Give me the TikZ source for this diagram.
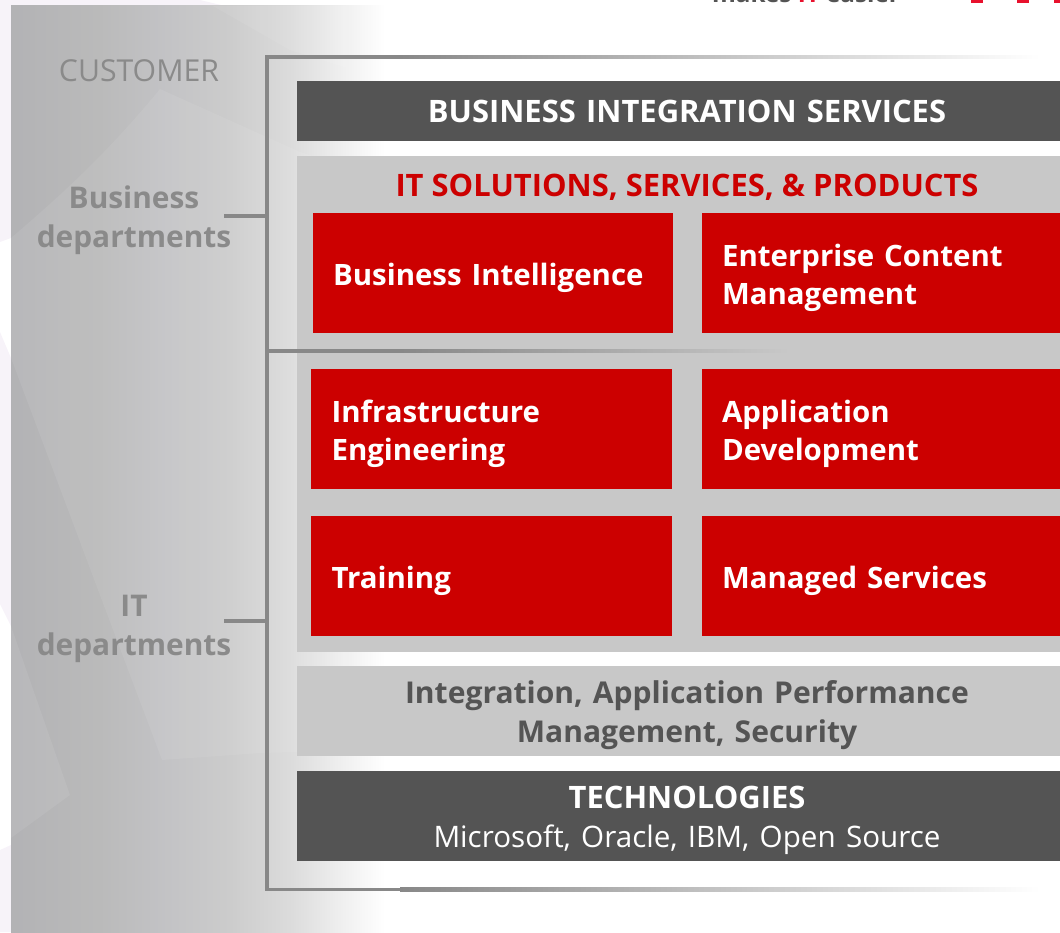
\documentclass[tikz,border=0pt]{standalone}
\usepackage{fontspec}
\setmainfont{Open Sans}
\usepackage{xcolor}
\usetikzlibrary{positioning}
\definecolor{darkbar}{HTML}{545454}
\definecolor{lightbar}{HTML}{C8C8C8}
\definecolor{redbox}{HTML}{CC0000}
\definecolor{lineray}{HTML}{888888}
\definecolor{labelgray}{HTML}{8A8A8A}
\definecolor{lavender}{HTML}{F7F3F9}
\definecolor{logored}{HTML}{E8112D}
\pgfdeclarehorizontalshading{sidefade}{100bp}{
  rgb(0bp)=(.70,.70,.71); rgb(25bp)=(.70,.70,.71); rgb(36.9bp)=(.73,.73,.73); rgb(44.9bp)=(.76,.76,.77);
  rgb(54.3bp)=(.80,.80,.80); rgb(62.3bp)=(.86,.86,.86); rgb(67.6bp)=(.92,.92,.92);
  rgb(75bp)=(1,1,1); rgb(100bp)=(1,1,1)}

\begin{document}
\begin{tikzpicture}[
    x=0.02cm, y=-0.02cm,
    textdown/.style={execute at begin node={\rule{0pt}{#1}}},
    banner/.style={rectangle, fill=darkbar, text=white, minimum width=15.6cm, minimum height=1.2cm,
                   text width=15.6cm, inner sep=0pt, align=center, font=\fontsize{17.6}{22}\selectfont\bfseries},
    band/.style={rectangle, fill=lightbar, minimum width=15.6cm, text width=15.6cm, inner sep=0pt, align=center},
    redcard/.style={rectangle, fill=redbox, text=white, minimum width=7.22cm, minimum height=2.4cm,
                    text width=6.4cm, inner xsep=0.4cm, inner ysep=0pt, align=left, textdown=0.625cm,
                    font=\fontsize{16.75}{21.6}\selectfont\bfseries},
    sidelabel/.style={text=labelgray, align=center, inner sep=0pt,
                      font=\fontsize{17}{22}\selectfont\bfseries},
    frameline/.style={draw=lineray, line width=0.07cm},
    lightpatch/.style={fill=white, opacity=0.07}
]
    \useasboundingbox (0,0) rectangle (1060,932);
    \clip (0,0) rectangle (1060,932);

    % Pale background shapes
    \fill[lavender] (0,0) -- (200,0) -- (225,6) -- (11,6) -- (11,238) -- (0,242) -- cycle;
    \fill[lavender] (0,332) -- (11,358) -- (11,626) -- (0,604) -- cycle;
    \fill[lavender] (0,850) -- (11,845) -- (11,932) -- (0,932) -- cycle;

    % Side panel
    \shade[shading=sidefade] (11,6) rectangle (385,932);
    \path[lightpatch] (11,238) .. controls (67,190) and (110,150) .. (160,89) -- (300,152)
        -- (385,180) -- (385,750) -- (260,753) -- (162,760) -- (11,358) -- cycle;
    \path[lightpatch] (11,626) -- (70,795) -- (11,838) -- cycle;
    \path[lightpatch] (213,6) -- (290,50) -- (385,80) -- (385,6) -- cycle;

    % Logo, cut by the top edge
    \node[anchor=base, inner sep=0pt, text=darkbar, font=\fontsize{13.8}{16}\selectfont\bfseries] (slogan) at (806,3)
        {makes \textcolor{logored}{IT} easier};
    \fill[logored] (971,0) rectangle (983,3);
    \fill[logored] (1017,0) rectangle (1029,3);
    \fill[logored] (1054,0) rectangle (1060,3);

    % Left column: customer
    \node[text=labelgray, inner sep=0pt, font=\fontsize{17.2}{22}\selectfont] (customer) at (139,71) {CUSTOMER};
    \node[sidelabel] (business) at (134,220) {Business\\departments};
    \node[sidelabel] (itdept) at (134,629) {IT\\departments};

    % Stacked bars
    \node[band, minimum height=9.92cm] (solutions) at (687,404) {};
    \node[banner] (integration) at (687,111) {BUSINESS INTEGRATION SERVICES};
    \node[inner sep=0pt, text=redbox, font=\fontsize{17.6}{22}\selectfont\bfseries] (solutionstitle) at (687,187)
        {IT SOLUTIONS, SERVICES, \& PRODUCTS};
    \node[band, minimum height=1.8cm, text=darkbar, textdown=0.615cm, font=\fontsize{17.1}{22}\selectfont\bfseries] (performance) at (687,711)
        {Integration, Application Performance\\Management, Security};
    \node[banner, minimum height=1.8cm, textdown=0.615cm] (technologies) at (687,816)
        {TECHNOLOGIES\\{\fontsize{16.85}{22.6}\selectfont\mdseries Microsoft, Oracle, IBM, Open Source}};

    % Red cards
    \node[redcard] (bi) at (493,273) {Business Intelligence};
    \node[redcard] (ecm) at (882,273) {Enterprise Content\\Management};
    \node[redcard] (infra) at (491.5,429) {Infrastructure\\Engineering};
    \node[redcard] (appdev) at (882,429) {Application\\Development};
    \node[redcard] (training) at (491.5,576) {Training};
    \node[redcard] (managed) at (882,576) {Managed Services};

    % Bracket
    \coordinate (frametop) at (267,57);
    \coordinate (framemid) at (267,351);
    \coordinate (framebot) at (267,889.5);
    \coordinate (bizstub) at (224,216);
    \coordinate (itstub) at (224,621);
    \draw[frameline] (400,57) -- (frametop) -- (framebot) -- (400,889.5);
    \draw[frameline] (framemid) -- (400,351);
    \draw[frameline] (bizstub) -- (bizstub -| frametop);
    \draw[frameline] (itstub) -- (itstub -| frametop);
    \shade[left color=lineray, right color=white] (400,55.25) rectangle (1040,58.75);
    \shade[left color=lineray, right color=lightbar] (400,349.25) rectangle (790,352.75);
    \shade[left color=lineray, right color=white] (400,887.75) rectangle (1040,891.25);
\end{tikzpicture}
\end{document}
